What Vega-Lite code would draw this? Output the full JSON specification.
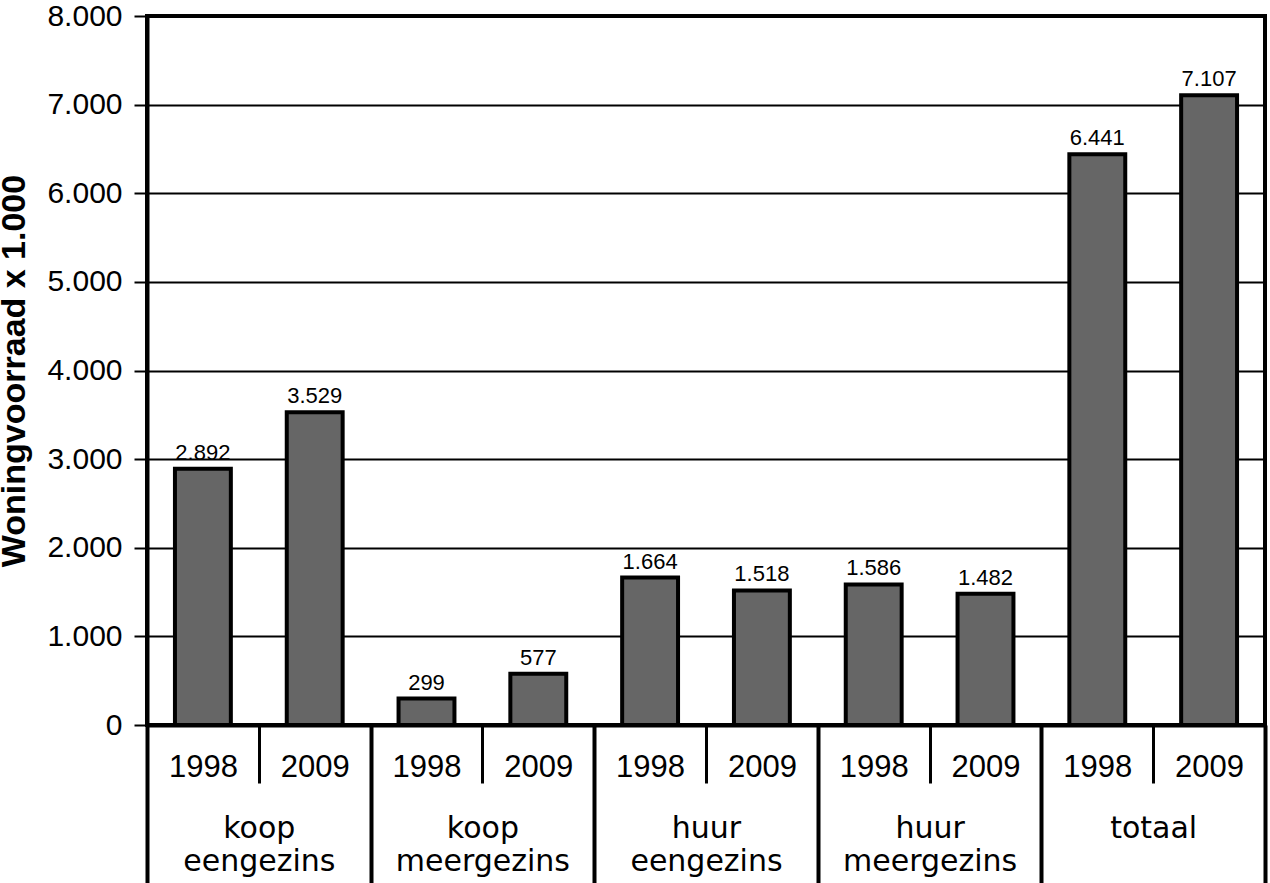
{
  "$schema": "https://vega.github.io/schema/vega-lite/v6.json",
  "autosize": "none",
  "width": 1118,
  "height": 709,
  "padding": {"left": 147, "top": 16, "right": 5, "bottom": 158},
  "background": "white",
  "config": {
    "locale": {"number": {"decimal": ",", "thousands": ".", "grouping": [3], "currency": ["€", ""]}},
    "view": {"stroke": "black", "strokeWidth": 4},
    "font": "Liberation Sans"
  },
  "data": {
    "values": [
      {"key": "koop eengezins|1998", "group": "koop eengezins", "year": "1998", "value": 2892},
      {"key": "koop eengezins|2009", "group": "koop eengezins", "year": "2009", "value": 3529},
      {"key": "koop meergezins|1998", "group": "koop meergezins", "year": "1998", "value": 299},
      {"key": "koop meergezins|2009", "group": "koop meergezins", "year": "2009", "value": 577},
      {"key": "huur eengezins|1998", "group": "huur eengezins", "year": "1998", "value": 1664},
      {"key": "huur eengezins|2009", "group": "huur eengezins", "year": "2009", "value": 1518},
      {"key": "huur meergezins|1998", "group": "huur meergezins", "year": "1998", "value": 1586},
      {"key": "huur meergezins|2009", "group": "huur meergezins", "year": "2009", "value": 1482},
      {"key": "totaal|1998", "group": "totaal", "year": "1998", "value": 6441},
      {"key": "totaal|2009", "group": "totaal", "year": "2009", "value": 7107}
    ]
  },
  "layer": [
    {
      "mark": {"type": "rule", "opacity": 0},
      "encoding": {
        "x": {
          "field": "group",
          "type": "nominal",
          "sort": null,
          "scale": {"type": "band", "paddingInner": 0, "paddingOuter": 0},
          "axis": {
            "title": null,
            "orient": "bottom",
            "domain": false,
            "tickBand": "extent",
            "ticks": true,
            "tickSize": 160,
            "tickWidth": 4,
            "tickColor": "black",
            "labelPadding": -72,
            "labelBaseline": "top",
            "labelFontSize": 30,
            "labelLineHeight": 33,
            "labelColor": "black",
            "labelFont": "DejaVu Sans",
            "labelAngle": 0,
            "labelExpr": "split(datum.label, ' ')"
          }
        }
      }
    },
    {
      "layer": [
        {
          "mark": {"type": "bar", "fill": "#666666", "stroke": "black", "strokeWidth": 4, "width": {"band": 0.5}},
          "encoding": {
            "x": {
              "field": "key",
              "type": "nominal",
              "sort": null,
              "scale": {"type": "band", "paddingInner": 0, "paddingOuter": 0},
              "axis": {
                "title": null,
                "orient": "bottom",
                "domain": true,
                "domainWidth": 4,
                "domainColor": "black",
                "tickBand": "extent",
                "tickSize": 58,
                "tickWidth": 3,
                "tickColor": "black",
                "labelPadding": -31,
                "labelBaseline": "top",
                "labelFontSize": 31,
                "labelColor": "black",
                "labelFont": "Liberation Sans",
                "labelAngle": 0,
                "labelExpr": "split(datum.label, '|')[1]"
              }
            },
            "y": {
              "field": "value",
              "type": "quantitative",
              "scale": {"domain": [0, 8000]},
              "axis": {
                "title": "Woningvoorraad x 1.000",
                "titleFontSize": 34,
                "titleFontWeight": "bold",
                "titleFont": "Liberation Sans",
                "titleColor": "black",
                "titlePadding": 15,
                "values": [0, 1000, 2000, 3000, 4000, 5000, 6000, 7000, 8000],
                "format": ",d",
                "grid": true,
                "gridColor": "black",
                "gridWidth": 2,
                "gridOpacity": 1,
                "domain": true,
                "domainWidth": 4,
                "domainColor": "black",
                "tickSize": 13,
                "tickWidth": 2,
                "tickColor": "black",
                "labelPadding": 12,
                "labelFontSize": 30,
                "labelColor": "black",
                "labelFont": "Liberation Sans"
              }
            }
          }
        },
        {
          "mark": {"type": "text", "baseline": "bottom", "dy": -4, "fontSize": 22, "font": "Liberation Sans", "color": "black"},
          "encoding": {
            "x": {"field": "key", "type": "nominal", "sort": null},
            "y": {"field": "value", "type": "quantitative"},
            "text": {"field": "value", "type": "quantitative", "format": ",d"}
          }
        }
      ]
    }
  ],
  "resolve": {"scale": {"x": "independent"}, "axis": {"x": "independent"}}
}
